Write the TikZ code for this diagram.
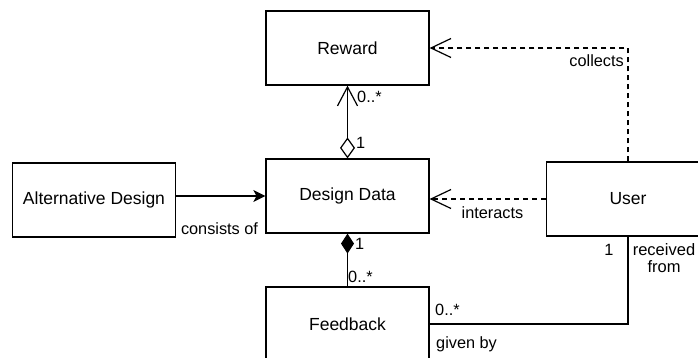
\documentclass[tikz,border=0pt]{standalone}
\usepackage{fontspec}
\setmainfont{Liberation Sans}
\usepackage{tikz}
\usetikzlibrary{arrows.meta, positioning, calc}

\tikzset{
    classbox/.style={draw, line width=1.2pt, minimum width=163pt, minimum height=74pt,
        inner sep=0pt, font=\fontsize{17.5}{20}\selectfont},
    lbl/.style={inner sep=0pt, font=\fontsize{16.3}{18}\selectfont},
    assoc/.style={line width=1.2pt},
    depend/.style={line width=1.2pt, dash pattern=on 5pt off 4pt},
    openhead/.style={-{Straight Barb[length=20pt,width=19pt,line width=1.2pt]}},
}

\begin{document}
\begin{tikzpicture}[x=1pt, y=-1pt]

    \useasboundingbox (0,0) rectangle (698,358);
    \clip (0,0) rectangle (698,358);

    % --- Classes ---
    \node[classbox] (reward)   at (347.5,48)  {Reward};
    \node[classbox] (data)     at (347.5,196) {Design Data};
    \node[classbox] (alt)      at (94,200)    {Alternative Design};
    \node[classbox] (user)     at (628,199)   {User};
    \node[classbox] (feedback) at (347.5,324) {Feedback};

    % --- Aggregation: Design Data to Reward ---
    \draw[assoc, {Diamond[open,length=21pt,width=15pt,line width=1.2pt]}-{Straight Barb[length=19pt,width=20pt,line width=1.2pt]}]
        (data.north) -- (reward.south);
    \node[lbl, anchor=west] (mrew) at (357,97)  {0..*};
    \node[lbl, anchor=west] (mrd)  at (356,143) {1};

    % --- Composition: Design Data to Feedback ---
    \draw[assoc, {Diamond[length=20pt,width=13pt]}-] (data.south) -- (feedback.north);
    \node[lbl, anchor=west] (mfd) at (355,244) {1};
    \node[lbl, anchor=west] (mfb) at (348,277) {0..*};

    % --- Alternative Design to Design Data ---
    \draw[assoc, -{Stealth[length=12pt,width=12pt,inset=3pt]}] (alt.east |- data.west) -- (data.west);
    \node[lbl] (consists) at (219.5,229) {consists of};

    % --- User dependencies ---
    \draw[depend, openhead] (user.west) -- (data.east |- user.west);
    \node[lbl] (interacts) at (492.5,213) {interacts};

    \draw[depend, openhead] (user.north) |- (reward.east);
    \node[lbl, anchor=east] (collects) at (624,61) {collects};

    % --- Feedback given by User ---
    \draw[assoc] (feedback.east) -| (user.south);
    \node[lbl, anchor=west] (mfu) at (435,310) {0..*};
    \node[lbl, anchor=west] (given) at (436,344) {given by};
    \node[lbl] (mus) at (609,250) {1};
    \node[lbl, align=center, font=\fontsize{16.5}{16.5}\selectfont] (received) at (664,258) {received\\from};

\end{tikzpicture}
\end{document}
